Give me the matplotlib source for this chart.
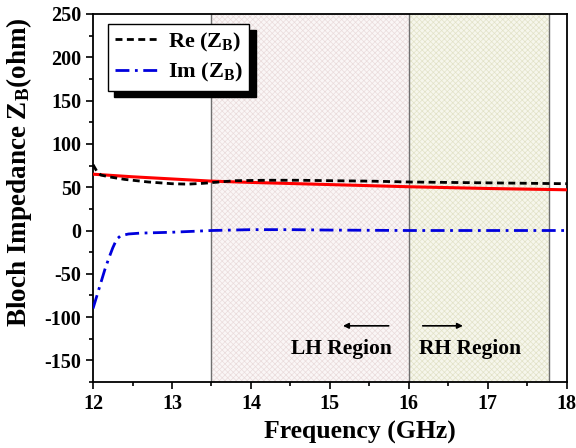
import matplotlib
matplotlib.use("Agg")
import matplotlib.pyplot as plt
from matplotlib.ticker import MultipleLocator

# values
freq_re = [12.0, 12.05, 12.1, 12.2, 12.4, 12.7, 13.0, 13.2, 13.4, 13.6, 13.8, 14.2, 14.6, 15.0, 15.5, 16.0, 16.5, 17.0, 17.5, 18.0]
re_zb = [76, 68, 64, 62, 59, 56, 54, 53.5, 54.5, 56, 57.5, 58, 58, 57.5, 57, 56, 55.5, 55, 54.5, 54]

freq_im = [12.0, 12.05, 12.1, 12.15, 12.2, 12.25, 12.3, 12.35, 12.45, 12.6, 13.0, 13.5, 14.0, 14.5, 15.0, 16.0, 17.0, 18.0]
im_zb = [-90, -75, -60, -45, -32, -20, -10, -6, -4, -3, -2, 0, 1, 1, 0.5, 0, 0, 0]

freq_fit = [12.0, 12.5, 13.0, 13.5, 14.0, 15.0, 16.0, 17.0, 18.0]
fit_zb = [65, 62, 59.5, 57, 55.5, 53, 50.5, 48.5, 47]

lh_band = (13.5, 16.0)
rh_band = (16.0, 17.78)

plt.rcParams['font.family'] = ['Liberation Serif', 'DejaVu Serif']
plt.rcParams['font.weight'] = 'bold'
plt.rcParams['mathtext.fontset'] = 'custom'
plt.rcParams['mathtext.rm'] = 'Liberation Serif:bold'
plt.rcParams['mathtext.bf'] = 'Liberation Serif:bold'
plt.rcParams['mathtext.it'] = 'Liberation Serif:bold'
plt.rcParams['axes.unicode_minus'] = False
plt.rcParams['hatch.linewidth'] = 0.5

fig = plt.figure(figsize=(5.76, 4.48), dpi=100)
ax = fig.add_axes([0.1615, 0.147, 0.8225, 0.822])

# shaded regions
plt.rcParams['hatch.color'] = '#eadcdc'
ax.axvspan(*lh_band, facecolor='#faf6f6', edgecolor='#eadcdc', hatch='xxxxxx', linewidth=0, zorder=0)
plt.rcParams['hatch.color'] = '#e2e2c8'
ax.axvspan(*rh_band, facecolor='#f6f6ec', edgecolor='#e2e2c8', hatch='xxxxxx', linewidth=0, zorder=0)
for xv in (lh_band[0], lh_band[1], rh_band[1]):
    ax.axvline(xv, color='#707070', linewidth=1.0, zorder=1)

ax.plot(freq_fit, fit_zb, color='red', linewidth=2.2, zorder=3)
ax.plot(freq_re, re_zb, color='black', linestyle=(0, (2.5, 1.6)), linewidth=2.0, label=r'Re (Z$_\mathrm{B}$)', zorder=4)
ax.plot(freq_im, im_zb, color='#0000dd', linestyle=(0, (5, 2, 1, 2)), linewidth=2.0, label=r'Im (Z$_\mathrm{B}$)', zorder=4)

# arrows and region labels
ax.annotate('', xy=(15.13, -110), xytext=(15.78, -110),
            arrowprops=dict(arrowstyle='-|>', color='black', lw=1.2, mutation_scale=8))
ax.annotate('', xy=(16.72, -110), xytext=(16.14, -110),
            arrowprops=dict(arrowstyle='-|>', color='black', lw=1.2, mutation_scale=8))
ax.text(15.14, -137, 'LH Region', ha='center', va='center', fontsize=15.5, fontweight='bold')
ax.text(16.77, -137, 'RH Region', ha='center', va='center', fontsize=15.5, fontweight='bold')

ax.set_xlim(12, 18)
ax.set_ylim(-175, 250)
ax.xaxis.set_major_locator(MultipleLocator(1))
ax.xaxis.set_minor_locator(MultipleLocator(0.5))
ax.yaxis.set_major_locator(MultipleLocator(50))
ax.yaxis.set_minor_locator(MultipleLocator(25))
ax.tick_params(which='both', direction='out', top=False, right=False, labelsize=14.5, width=1.2)
ax.tick_params(which='major', length=5)
ax.tick_params(which='minor', length=3)
for sp in ax.spines.values():
    sp.set_linewidth(1.3)

ax.set_xlabel('Frequency (GHz)', fontsize=18.5, fontweight='bold')
ax.set_ylabel(r'Bloch Impedance Z$_\mathrm{B}$(ohm)', fontsize=19.5, fontweight='bold')
ax.xaxis.set_label_coords(0.563, -0.105)
ax.yaxis.set_label_coords(-0.125, 0.57)

leg = ax.legend(loc='upper left', bbox_to_anchor=(0.032, 0.973), borderaxespad=0, fontsize=16,
                frameon=True, fancybox=False, shadow={'color': 'black', 'alpha': 1.0, 'ox': 4.5, 'oy': -4.5},
                handlelength=1.9, handletextpad=0.5, borderpad=0.3, labelspacing=0.35)
leg.get_frame().set_edgecolor('black')
leg.get_frame().set_linewidth(1.0)

plt.savefig('out.png', dpi=100)
